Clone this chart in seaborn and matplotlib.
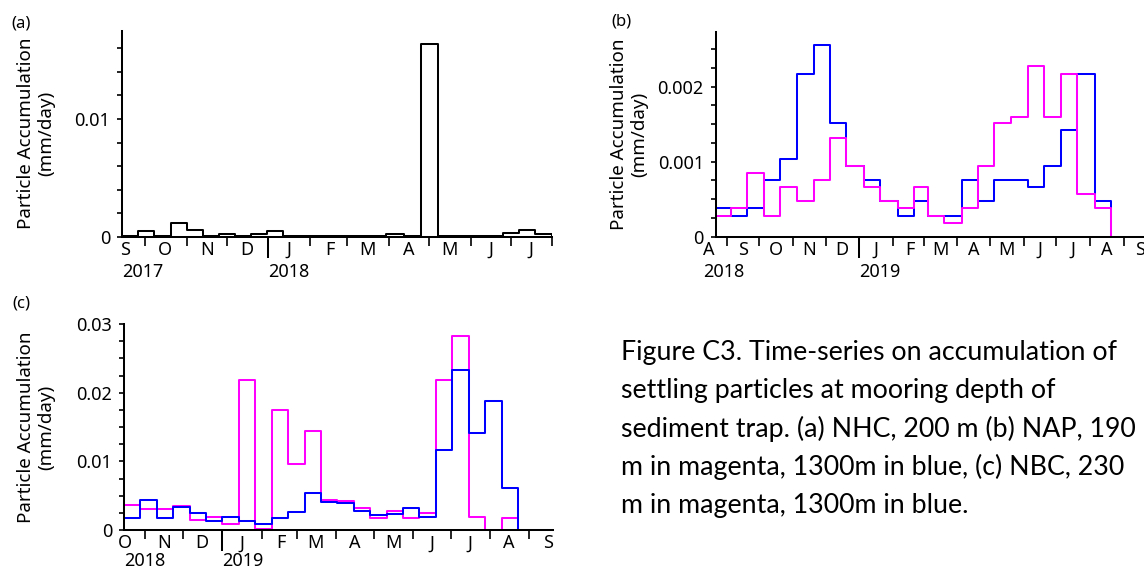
import matplotlib
matplotlib.use("Agg")
import matplotlib.pyplot as plt
import matplotlib.dates as mdates
from matplotlib.ticker import MultipleLocator, FuncFormatter, NullFormatter
import numpy as np
import pandas as pd
import seaborn as sns

# ---------------- data ----------------
# (a) NHC, 200 m  (trap interval edges and mean accumulation, mm/day)
a_edges = ["2017-09-14", "2017-09-26", "2017-10-08", "2017-10-20", "2017-11-01",
           "2017-11-13", "2017-11-25", "2017-12-07", "2017-12-19", "2017-12-31",
           "2018-01-12", "2018-01-25", "2018-02-06", "2018-02-19", "2018-03-05",
           "2018-03-18", "2018-03-30", "2018-04-12", "2018-04-25", "2018-05-08",
           "2018-05-20", "2018-06-01", "2018-06-13", "2018-06-25", "2018-07-07",
           "2018-07-19", "2018-08-01"]
a_nhc_200 = [0.00003, 0.00045, 0.00003, 0.0012, 0.0006, 0.00002, 0.0002, 0.0001,
             0.0002, 0.00045, 0.00003, 0.00002, 0.00002, 0.0001, 0.00002, 0.0001,
             0.0002, 0.00002, 0.0164, 0.00002, 0.00002, 0.00002, 0.00002, 0.0003,
             0.00055, 0.00025]
a_months = ["S", "O", "N", "D", "J", "F", "M", "A", "M", "J", "J"]
a_month_start = "2017-09-01"
a_years = ["2017", "2018"]
a_year_pos = ["2017-09-14", "2018-01-01"]
a_xlim = ["2017-09-14", "2018-08-01"]

# (b) NAP, 190 m (magenta) and 1300 m (blue)
b_edges = ["2018-08-22", "2018-09-05", "2018-09-20", "2018-10-05", "2018-10-20",
           "2018-11-05", "2018-11-20", "2018-12-05", "2018-12-20", "2019-01-05",
           "2019-01-20", "2019-02-05", "2019-02-20", "2019-03-05", "2019-03-20",
           "2019-04-05", "2019-04-20", "2019-05-05", "2019-05-20", "2019-06-05",
           "2019-06-20", "2019-07-05", "2019-07-20", "2019-08-05", "2019-08-20"]
b_nap_190 = [0.00028, 0.00038, 0.00085, 0.00028, 0.00066, 0.00048, 0.00075, 0.00132,
             0.00094, 0.00066, 0.00048, 0.00038, 0.00066, 0.00028, 0.00018, 0.00038,
             0.00094, 0.00151, 0.0016, 0.00227, 0.0016, 0.00217, 0.00057, 0.00038]
b_nap_1300 = [0.00038, 0.00028, 0.00038, 0.00075, 0.00104, 0.00217, 0.00255, 0.00151,
              0.00094, 0.00075, 0.00048, 0.00028, 0.00048, 0.00028, 0.00028, 0.00075,
              0.00048, 0.00075, 0.00075, 0.00066, 0.00094, 0.00142, 0.00217, 0.00048]
b_months = ["A", "S", "O", "N", "D", "J", "F", "M", "A", "M", "J", "J", "A", "S"]
b_month_start = "2018-08-01"
b_years = ["2018", "2019"]
b_year_pos = ["2018-08-10", "2019-01-01"]
b_xlim = ["2018-08-22", "2019-09-19 10:00"]

# (c) NBC, 230 m (magenta) and 1300 m (blue)
c_edges = ["2018-10-15", "2018-10-28", "2018-11-10", "2018-11-23", "2018-12-06",
           "2018-12-19", "2019-01-01", "2019-01-14", "2019-01-27", "2019-02-09",
           "2019-02-22", "2019-03-07", "2019-03-20", "2019-04-02", "2019-04-15",
           "2019-04-28", "2019-05-11", "2019-05-24", "2019-06-06", "2019-06-19",
           "2019-07-02", "2019-07-15", "2019-07-28", "2019-08-10", "2019-08-23"]
c_blue_extra_edge = ["2019-09-20"]
c_nbc_230 = [0.0037, 0.003, 0.003, 0.0035, 0.00146, 0.0019, 0.00083, 0.0218,
             0.0002, 0.0175, 0.0096, 0.0144, 0.0044, 0.0042, 0.0032, 0.0017,
             0.0028, 0.0017, 0.0025, 0.0218, 0.0283, 0.0019, 0.0, 0.0017]
c_nbc_1300 = [0.0017, 0.0044, 0.0017, 0.0033, 0.0025, 0.0013, 0.0019, 0.0013,
              0.0009, 0.0017, 0.0026, 0.0054, 0.0041, 0.0039, 0.0028, 0.0022,
              0.0024, 0.0032, 0.0019, 0.0117, 0.0233, 0.0141, 0.0188, 0.0061, 0.0]
c_months = ["O", "N", "D", "J", "F", "M", "A", "M", "J", "J", "A", "S"]
c_month_start = "2018-10-01"
c_years = ["2018", "2019"]
c_year_pos = ["2018-10-15", "2019-01-01"]
c_xlim = ["2018-10-15", "2019-09-20"]

caption_lines = ["Figure C3. Time-series on accumulation of",
                 "settling particles at mooring depth of",
                 "sediment trap. (a) NHC, 200 m (b) NAP, 190",
                 "m in magenta, 1300m in blue, (c) NBC, 230",
                 "m in magenta, 1300m in blue."]

MAGENTA = "#FF00FF"
BLUE = "#0000FF"

# ---------------- style ----------------
sns.set_theme(style="ticks", rc={"axes.edgecolor": "black", "axes.linewidth": 1.45,
                                 "xtick.color": "black", "ytick.color": "black",
                                 "text.color": "black", "axes.labelcolor": "black"})
plt.rcParams["font.family"] = ["Noto Sans", "DejaVu Sans"]

W, H = 1144, 571
fig = plt.figure(figsize=(W / 100, H / 100), dpi=100)


def rect(l, r, t, b):
    return [l / W, 1 - b / H, (r - l) / W, (b - t) / H]


def steps(edges, values, name):
    d = list(pd.to_datetime(edges))
    x = d + [d[-1]]
    y = list(values) + [values[-1], 0.0]
    return pd.DataFrame({"date": x, "value": y, "series": name})


FS = 13


def draw(ax, frames, palette, order, ytop, major, minor, xlim, months, mstart,
         years, ypos, label_x, year_off=-25.4):
    df = pd.concat(frames, ignore_index=True)
    sns.lineplot(data=df, x="date", y="value", hue="series", hue_order=order,
                 palette=palette, estimator=None, sort=False,
                 drawstyle="steps-post", linewidth=1.45, legend=False, ax=ax)
    ax.set_xlim(pd.Timestamp(xlim[0]), pd.Timestamp(xlim[1]))
    ax.set_ylim(0, ytop)
    sns.despine(ax=ax)
    ax.set_xlabel("")
    ax.set_ylabel("Particle Accumulation\n(mm/day)", fontsize=13.5, va="center",
                  linespacing=1.15)
    ax.yaxis.set_label_coords(label_x, 0.5)

    ax.xaxis.set_major_locator(mdates.YearLocator())
    ax.xaxis.set_major_formatter(NullFormatter())
    ax.xaxis.set_minor_locator(mdates.MonthLocator())
    ax.xaxis.set_minor_formatter(NullFormatter())
    ax.yaxis.set_major_locator(MultipleLocator(major))
    ax.yaxis.set_minor_locator(MultipleLocator(minor))
    ax.yaxis.set_major_formatter(FuncFormatter(lambda v, p: f"{v:g}"))
    ax.tick_params(axis="x", which="major", direction="out", length=15, width=1.45)
    ax.tick_params(axis="x", which="minor", direction="out", length=6.5, width=1.2)
    ax.tick_params(axis="y", which="both", direction="out", length=3.6, width=1.2,
                   labelsize=FS, pad=5)

    starts = pd.date_range(mstart, periods=len(months), freq="MS")
    for s, m in zip(starts, months):
        ax.annotate(m, xy=(mdates.date2num(s + pd.Timedelta(days=15)), 0),
                    xycoords=("data", "axes fraction"), xytext=(0, -9.7),
                    textcoords="offset points", ha="center", va="center",
                    fontsize=FS, annotation_clip=False)
    for yl, p in zip(years, ypos):
        ax.annotate(yl, xy=(mdates.date2num(pd.Timestamp(p)), 0),
                    xycoords=("data", "axes fraction"), xytext=(0, year_off),
                    textcoords="offset points", ha="left", va="center",
                    fontsize=FS, annotation_clip=False)


ax_a = fig.add_axes(rect(122.3, 552.3, 30.7, 236.7))
draw(ax_a, [steps(a_edges, a_nhc_200, "NHC 200 m")], {"NHC 200 m": "black"},
     ["NHC 200 m"], 0.0175, 0.01, 0.002, a_xlim, a_months, a_month_start,
     a_years, a_year_pos, (36 - 122.3) / 430)

ax_b = fig.add_axes(rect(715.7, 1144, 31.7, 236.7))
draw(ax_b, [steps(b_edges, b_nap_1300, "NAP 1300 m"), steps(b_edges, b_nap_190, "NAP 190 m")],
     {"NAP 190 m": MAGENTA, "NAP 1300 m": BLUE}, ["NAP 1300 m", "NAP 190 m"],
     0.00273, 0.001, 0.00025, b_xlim, b_months, b_month_start,
     b_years, b_year_pos, (629.5 - 715.7) / 428.3)

ax_c = fig.add_axes(rect(124, 553.3, 324, 530))
draw(ax_c, [steps(c_edges, c_nbc_230, "NBC 230 m"),
            steps(c_edges + c_blue_extra_edge, c_nbc_1300, "NBC 1300 m")],
     {"NBC 230 m": MAGENTA, "NBC 1300 m": BLUE}, ["NBC 230 m", "NBC 1300 m"],
     0.03, 0.01, 0.0025, c_xlim, c_months, c_month_start,
     c_years, c_year_pos, (36 - 124) / 429.3, year_off=-22.0)

# panel letters
for lbl, (px, py) in zip(["(a)", "(b)", "(c)"], [(21, 23), (621, 22), (21, 303)]):
    fig.text(px / W, 1 - py / H, lbl, fontsize=12, ha="center", va="center")

# caption (font size fitted to the first line width)
renderer = fig.canvas.get_renderer()
probe = fig.text(0, 0, caption_lines[0], fontsize=20, family=["Lato", "DejaVu Sans"])
wprobe = probe.get_window_extent(renderer).width
probe.remove()
cap_fs = 20 * 497 / wprobe
baselines = [360, 398.3, 436.5, 474.8, 513]
for line, b in zip(caption_lines, baselines):
    fig.text(621 / W, 1 - b / H, line, fontsize=cap_fs, family=["Lato", "DejaVu Sans"],
             ha="left", va="baseline")

fig.savefig("out.png", dpi=100)
